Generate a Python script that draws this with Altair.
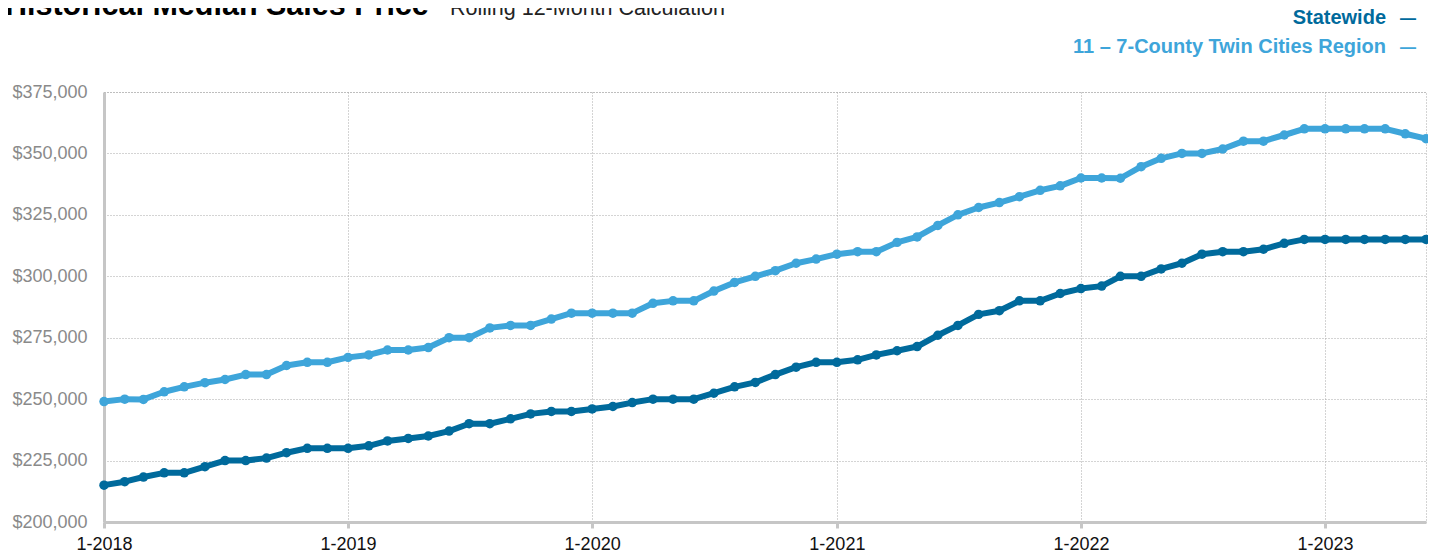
import altair as alt
import pandas as pd

# ---- data ----
months = pd.date_range("2018-01-01", "2023-06-01", freq="MS").strftime("%Y-%m-%dT00:00:00").tolist()

statewide = [
    215000, 216400, 218300, 220000, 220000, 222500, 225000, 225000, 226000, 228200, 230000, 230000,
    230000, 231000, 233000, 234000, 235000, 237000, 240000, 240000, 242000, 244000, 245000, 245000,
    246000, 247000, 248600, 250000, 250000, 250000, 252400, 255000, 256800, 260000, 263000, 265000,
    265000, 266000, 268000, 269700, 271400, 276000, 280000, 284500, 286000, 290000, 290000, 293000,
    295000, 296000, 300000, 300000, 303000, 305300, 309000, 310000, 310000, 311000, 313400, 315000,
    315000, 315000, 315000, 315000, 315000, 315000,
]

twin_cities = [
    249000, 250000, 249900, 253000, 255000, 256700, 258000, 260000, 260000, 263700, 265000, 265000,
    267000, 268000, 270000, 270000, 271000, 275000, 275000, 279000, 280000, 280000, 282600, 285000,
    285000, 285000, 285000, 289000, 290000, 290000, 294000, 297500, 300000, 302300, 305300, 307000,
    309000, 310000, 310000, 313800, 316000, 320700, 325000, 328000, 330000, 332400, 335000, 336800,
    340000, 340000, 339900, 344600, 348000, 350000, 350000, 351800, 355000, 355000, 357500, 360000,
    360000, 360000, 360000, 360000, 358000, 356000,
]

series_names = ["Statewide", "11 – 7-County Twin Cities Region"]
series_colors = ["#006a9c", "#3ea5da"]
y_ticks = [200000, 225000, 250000, 275000, 300000, 325000, 350000, 375000]
tick_years = [2018, 2019, 2020, 2021, 2022, 2023]

title_text = "Historical Median Sales Price"
subtitle_text = "Rolling 12-Month Calculation"

df = pd.DataFrame({
    "month": months + months,
    "price": statewide + twin_cities,
    "series": [series_names[0]] * len(months) + [series_names[1]] * len(months),
})

color_scale = alt.Scale(domain=series_names, range=series_colors)

x_enc = alt.X(
    "month:T",
    scale=alt.Scale(domain=[alt.DateTime(year=2018, month=1, date=1),
                            alt.DateTime(year=2023, month=6, date=1)], nice=False),
    axis=alt.Axis(
        values=[alt.DateTime(year=y, month=1, date=1) for y in tick_years],
        format="%-m-%Y", title=None,
        labelFont="Liberation Sans", labelFontSize=18, labelColor="#111111",
        labelPadding=7, tickSize=6, tickWidth=3, tickColor="#c6c6c6",
        domainColor="#c6c6c6", domainWidth=3,
        grid=True, gridColor="#a8a8a8", gridDash=[1, 2], gridWidth=1,
        labelFlush=False,
    ),
)
y_enc = alt.Y(
    "price:Q",
    scale=alt.Scale(domain=[200000, 375000], nice=False, zero=False),
    axis=alt.Axis(
        values=y_ticks, format="$,.0f", title=None,
        labelFont="Liberation Sans", labelFontSize=18, labelColor="#8a8a8a",
        labelPadding=17, ticks=False,
        domainColor="#c6c6c6", domainWidth=3,
        grid=True, gridColor="#a8a8a8", gridDash=[1, 2], gridWidth=1,
    ),
)
color_enc = alt.Color("series:N", scale=color_scale, legend=None)

base = alt.Chart(df).encode(x=x_enc, y=y_enc, color=color_enc, detail="series:N")
lines = base.mark_line(strokeWidth=6, strokeJoin="round")
points = base.mark_point(filled=True, size=90, opacity=1)

title = alt.Chart(pd.DataFrame({"t": [title_text]})).mark_text(
    align="left", baseline="alphabetic",
    font="Liberation Sans",
    fontSize=30.5, fontWeight="bold", color="#000000",
).encode(text="t:N", x=alt.value(-99), y=alt.value(-77))

subtitle = alt.Chart(pd.DataFrame({"t": [subtitle_text]})).mark_text(
    align="left", baseline="alphabetic",
    font="Liberation Sans",
    fontSize=21.5, fontWeight="normal", color="#222222",
).encode(text="t:N", x=alt.value(346), y=alt.value(-77))

legend_layers = []
for name, ypos in zip(series_names, [-68, -39]):
    ldf = pd.DataFrame({"series": [name], "dash": ["—"]})
    lab = alt.Chart(ldf).mark_text(
        align="right", baseline="alphabetic", font="Liberation Sans",
        fontSize=20, fontWeight="bold",
    ).encode(text="series:N", color=color_enc, x=alt.value(1282), y=alt.value(ypos))
    dash = alt.Chart(ldf).mark_text(
        align="center", baseline="alphabetic", font="Liberation Sans",
        fontSize=16, fontWeight="bold",
    ).encode(text="dash:N", color=color_enc, x=alt.value(1304), y=alt.value(ypos))
    legend_layers += [lab, dash]

chart = alt.layer(lines, points, title, subtitle, *legend_layers).properties(
    width=1322, height=430,
    autosize=alt.AutoSizeParams(type="none"),
    padding={"left": 96, "top": 84, "right": 2, "bottom": 30},
).configure_view(stroke="#a8a8a8", strokeDash=[1, 2], strokeWidth=1)

chart.save("out.html", embed_options={"renderer": "svg", "actions": False})
